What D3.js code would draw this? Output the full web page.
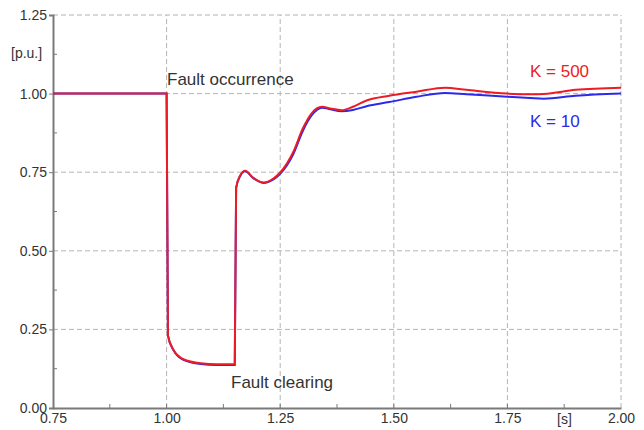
<!DOCTYPE html>
<html>
<head>
<meta charset="utf-8">
<script src="https://cdn.jsdelivr.net/npm/d3@7"></script>
<style>
  body { margin: 0; background: #fff; }
  text { font-family: "Liberation Sans", Arial, sans-serif; }
</style>
</head>
<body>
<div id="chart"></div>
<script>
// time [s] and voltage [p.u.]
var time = [0.75, 1.00, 1.003, 1.015, 1.037, 1.075, 1.11, 1.15, 1.153, 1.162, 1.173, 1.19, 1.213, 1.235, 1.25,
  1.279, 1.30, 1.32, 1.342, 1.36, 1.385, 1.41, 1.44, 1.49, 1.55, 1.613, 1.66, 1.75, 1.80, 1.83, 1.90, 2.00];
var k500 = [1.00, 1.00, 0.23, 0.185, 0.155, 0.142, 0.139, 0.139, 0.70, 0.74, 0.755, 0.733, 0.717, 0.73, 0.749,
  0.815, 0.89, 0.939, 0.958, 0.953, 0.947, 0.958, 0.978, 0.993, 1.006, 1.019, 1.012, 1.000, 0.998, 0.999, 1.012, 1.019];
var k10 = [1.00, 1.00, 0.23, 0.184, 0.153, 0.140, 0.137, 0.137, 0.70, 0.738, 0.753, 0.732, 0.716, 0.727, 0.745,
  0.808, 0.882, 0.932, 0.955, 0.950, 0.944, 0.948, 0.960, 0.973, 0.990, 1.002, 0.998, 0.990, 0.986, 0.984, 0.993, 1.000];

var xTicks = [0.75, 1.00, 1.25, 1.50, 1.75, 2.00];
var yTicks = [0.00, 0.25, 0.50, 0.75, 1.00, 1.25];

var width = 644, height = 430;
var margin = { top: 15, right: 23, bottom: 22, left: 53 };

var svg = d3.select('#chart').append('svg')
  .attr('width', width)
  .attr('height', height);

var x = d3.scaleLinear().domain([0.75, 2.00]).range([margin.left, width - margin.right]);
var y = d3.scaleLinear().domain([0, 1.25]).range([height - margin.bottom, margin.top]);

// grid
var grid = svg.append('g')
  .attr('stroke', '#b4b4b4')
  .attr('stroke-width', 1)
  .attr('stroke-dasharray', '5,3');
grid.selectAll('.vg').data(xTicks.slice(1)).enter().append('line')
  .attr('x1', d => x(d)).attr('x2', d => x(d))
  .attr('y1', y(0)).attr('y2', y(1.25));
grid.selectAll('.hg').data(yTicks.slice(1)).enter().append('line')
  .attr('x1', x(0.75)).attr('x2', x(2.00))
  .attr('y1', d => y(d)).attr('y2', d => y(d));

// axes
var xAxis = d3.axisBottom(x).tickValues(xTicks).tickFormat(d3.format('.2f')).tickSize(0).tickPadding(3);
var yAxis = d3.axisLeft(y).tickValues(yTicks).tickFormat(d3.format('.2f')).tickSize(4).tickPadding(2);

var gx = svg.append('g').attr('transform', 'translate(0,' + y(0) + ')').call(xAxis);
var gy = svg.append('g').attr('transform', 'translate(' + x(0.75) + ',0)').call(yAxis);
[gx, gy].forEach(function(g) {
  g.select('.domain').attr('stroke', '#7a7a7a').attr('stroke-width', 2);
  g.selectAll('.tick line').attr('stroke', '#7a7a7a');
  g.selectAll('text').attr('fill', '#333').style('font-size', '14px')
    .style('font-family', '"Liberation Sans", Arial, sans-serif');
});
gx.selectAll('.tick text').attr('dy', '0.85em');
gx.selectAll('.tick line').remove();

// minor ticks
var minorX = d3.range(0.875, 2.0, 0.125);
svg.append('g').selectAll('line').data(minorX).enter().append('line')
  .attr('x1', d => x(d)).attr('x2', d => x(d))
  .attr('y1', y(0)).attr('y2', y(0) - 4)
  .attr('stroke', '#7a7a7a');
var minorY = d3.range(0.125, 1.25, 0.25);
svg.append('g').selectAll('line').data(minorY).enter().append('line')
  .attr('x1', x(0.75)).attr('x2', x(0.75) + 4)
  .attr('y1', d => y(d)).attr('y2', d => y(d))
  .attr('stroke', '#7a7a7a');

// curves
var line = d3.line()
  .x(function(d) { return x(d[0]); })
  .y(function(d) { return y(d[1]); })
  .curve(d3.curveMonotoneX);

svg.append('path')
  .datum(time.map((t, i) => [t, k10[i]]))
  .attr('fill', 'none')
  .attr('stroke', '#2a2ae8')
  .attr('stroke-width', 2)
  .attr('d', line);

svg.append('path')
  .datum(time.map((t, i) => [t, k500[i]]))
  .attr('fill', 'none')
  .attr('stroke', '#ec1c24')
  .attr('stroke-width', 2)
  .attr('d', line);

// labels
function label(txt, px, py, color, size) {
  svg.append('text')
    .attr('x', px).attr('y', py)
    .attr('fill', color)
    .style('font-size', size + 'px')
    .text(txt);
}
label('[p.u.]', 11, 58, '#333', 14);
label('[s]', 557, 424, '#333', 14);
label('Fault occurrence', 167, 85, '#333', 17);
label('Fault clearing', 231, 388, '#333', 17);
label('K = 500', 530, 77, '#ec1c24', 17);
label('K = 10', 530, 127, '#2a2ae8', 17);
</script>
</body>
</html>
